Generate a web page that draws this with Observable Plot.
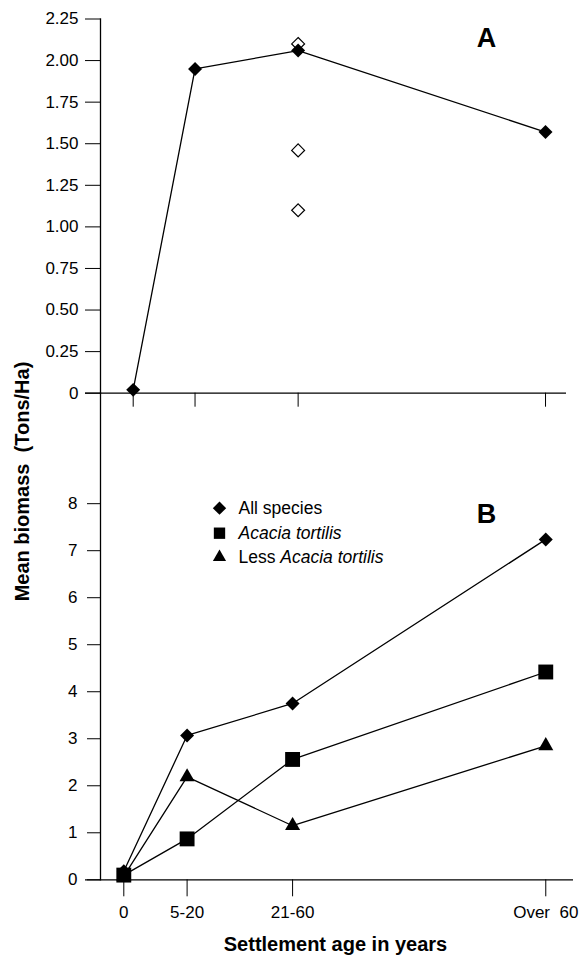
<!DOCTYPE html>
<html><head><meta charset="utf-8">
<script src="https://cdn.jsdelivr.net/npm/d3@7"></script>
<script src="https://cdn.jsdelivr.net/npm/@observablehq/plot@0.6"></script>
<style>
body{margin:0;background:#fff;}
#wrap{position:relative;width:582px;height:956px;background:#fff;}
#wrap svg{position:absolute;left:0;top:0;}
</style></head><body><div id="wrap"></div>
<script>
// ---- data ----
const ageLabels = ["0", "5-20", "21-60", "Over  60"];
const agePos = [0, 10.5, 28, 70]; // representative settlement age used for horizontal placement
// Panel A
const panelAMean = [0.02, 1.95, 2.06, 1.57];
const panelAExtraAge = ["21-60", "21-60", "21-60"];
const panelAExtra = [2.10, 1.46, 1.10];
const yTicksA = [0, 0.25, 0.5, 0.75, 1, 1.25, 1.5, 1.75, 2, 2.25];
// Panel B
const seriesNames = ["All species", "Acacia tortilis", "Less Acacia tortilis"];
const allSpecies = [0.18, 3.07, 3.75, 7.24];
const acaciaTortilis = [0.10, 0.87, 2.56, 4.42];
const lessAcacia = [0.08, 2.19, 1.15, 2.85];
const yTicksB = [0, 1, 2, 3, 4, 5, 6, 7, 8];

// ---- tables ----
const posOf = Object.fromEntries(ageLabels.map((a, i) => [a, agePos[i]]));
const labelOf = new Map(agePos.map((p, i) => [p, ageLabels[i]]));
const tableA = ageLabels.map((a, i) => ({age: a, pos: posOf[a], value: panelAMean[i]}));
const tableAExtra = panelAExtraAge.map((a, i) => ({age: a, pos: posOf[a], value: panelAExtra[i]}));
const seriesValues = [allSpecies, acaciaTortilis, lessAcacia];
const tableB = seriesNames.flatMap((s, k) => ageLabels.map((a, i) => ({series: s, age: a, pos: posOf[a], value: seriesValues[k][i]})));

const W = 582, H = 956;
const font = "'Liberation Sans', Arial, Helvetica, sans-serif";
const lw = 1.3;

const plotA = Plot.plot({
  width: W, height: H,
  marginTop: 18.5, marginBottom: H - 392.7, marginLeft: 100, marginRight: 16,
  style: {fontFamily: font, fontSize: "17px", color: "#000", background: "transparent", overflow: "visible"},
  x: {domain: [-5.55, 73.56], ticks: agePos, tickSize: 14, tickFormat: () => "", label: null},
  y: {domain: [0, 2.25], ticks: yTicksA, tickSize: 15, tickPadding: 7, tickFormat: d => d === 0 ? "0" : d.toFixed(2), label: null},
  marks: [
    Plot.frame({anchor: "left", stroke: "#000", strokeWidth: lw}),
    Plot.ruleY([0], {insetLeft: -15, stroke: "#000", strokeWidth: lw}),
    Plot.line(tableA, {x: "pos", y: "value", stroke: "#000", strokeWidth: lw}),
    Plot.dot(tableAExtra, {x: "pos", y: "value", symbol: "diamond2", r: 5.8, fill: "#fff", stroke: "#000", strokeWidth: 1.2}),
    Plot.dot(tableA, {x: "pos", y: "value", symbol: "diamond2", r: 6.3, fill: "#000", stroke: "none"}),
    Plot.text(["A"], {frameAnchor: "top-right", dx: -80, dy: 19, fontSize: 27, fontWeight: "bold", textAnchor: "middle", lineAnchor: "middle"})
  ]
});

const symbolOf = {"All species": "diamond2", "Acacia tortilis": "square", "Less Acacia tortilis": "triangle"};
const rOf = {"All species": 6.3, "Acacia tortilis": 8.4, "Less Acacia tortilis": 5.6};
const legendR = {"All species": 6.0, "Acacia tortilis": 6.4, "Less Acacia tortilis": 4.9};
const legendDy = [115, 140, 164];

const plotB = Plot.plot({
  width: W, height: H,
  marginTop: 392.7, marginBottom: H - 879.3, marginLeft: 100, marginRight: 9,
  style: {fontFamily: font, fontSize: "17px", color: "#000", background: "transparent", overflow: "visible"},
  x: {domain: [-3.865, 74.6], ticks: agePos, tickSize: 17, tickPadding: 9, tickFormat: d => labelOf.get(d), label: null},
  y: {domain: [0, 10.35], ticks: yTicksB, tickSize: 13, tickPadding: 10, label: null},
  marks: [
    Plot.frame({anchor: "left", stroke: "#000", strokeWidth: lw}),
    Plot.ruleY([0], {insetLeft: -15, stroke: "#000", strokeWidth: lw}),
    Plot.line(tableB, {x: "pos", y: "value", z: "series", stroke: "#000", strokeWidth: lw}),
    ...["All species", "Less Acacia tortilis", "Acacia tortilis"].map(s =>
      Plot.dot(tableB.filter(d => d.series === s), {x: "pos", y: "value", symbol: symbolOf[s], r: rOf[s], fill: "#000", stroke: "none"})
    ),
    // legend
    ...seriesNames.map((s, i) =>
      Plot.dot([s], {frameAnchor: "top-left", dx: 119, dy: legendDy[i], symbol: symbolOf[s], r: legendR[s], fill: "#000", stroke: "none"})
    ),
    ...seriesNames.map((s, i) =>
      Plot.text([s], {frameAnchor: "top-left", dx: 138, dy: legendDy[i], textAnchor: "start", lineAnchor: "middle", fontSize: 17.5,
        fontStyle: s === "Acacia tortilis" ? "italic" : "normal"})
    ),
    Plot.text(["B"], {frameAnchor: "top-right", dx: -87, dy: 121.3, fontSize: 27, fontWeight: "bold", textAnchor: "middle", lineAnchor: "middle"}),
    Plot.text(["Mean biomass  (Tons/Ha)"], {frameAnchor: "left", dx: -77.5, dy: -155, rotate: -90, fontSize: 20, fontWeight: "bold", textAnchor: "middle", lineAnchor: "middle"}),
    Plot.text(["Settlement age in years"], {frameAnchor: "bottom", dx: -1.5, dy: 64.7, fontSize: 20, fontWeight: "bold", textAnchor: "middle", lineAnchor: "middle"})
  ]
});

const wrap = document.getElementById("wrap");
wrap.appendChild(plotA);
wrap.appendChild(plotB);

// mixed-style legend label: "Less" upright, species name italic
d3.select(plotB).selectAll("text").each(function() {
  if (this.textContent === "Less Acacia tortilis" && this.children.length === 0) {
    const t = d3.select(this);
    t.text(null);
    t.append("tspan").text("Less ");
    t.append("tspan").attr("font-style", "italic").text("Acacia tortilis");
  }
});
</script></body></html>
